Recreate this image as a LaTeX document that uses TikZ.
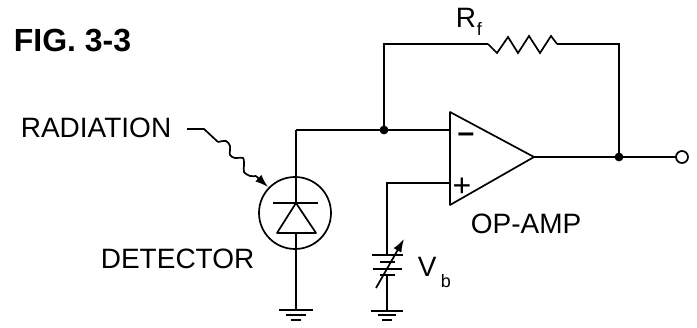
\documentclass[tikz,border=0pt]{standalone}
\usepackage{fontspec}
\setmainfont{Liberation Sans}
\usetikzlibrary{arrows.meta}
\begin{document}
\begin{tikzpicture}[
  x=1pt,
  y=-1pt,
  line width=1.7pt,
  mydot/.style={
    circle,
    fill=black,
    draw,
    outer sep=0pt,
    inner sep=0pt,
    minimum size=7pt
  },
  myport/.style={
    circle,
    fill=white,
    draw,
    outer sep=0pt,
    inner sep=0pt,
    minimum size=12pt
  },
  mylabel/.style={
    anchor=west,
    inner sep=0pt,
    font=\fontsize{28}{30}\selectfont
  },
  mysub/.style={
    anchor=west,
    inner sep=0pt,
    font=\fontsize{18}{20}\selectfont
  },
  mytip/.style={
    -{Latex[length=13pt,width=9pt]}
  }
]
\useasboundingbox (0,0) rectangle (697,328);
% labels
\node[mylabel,font=\fontsize{32}{34}\selectfont\bfseries] (fig) at (13,41) {FIG. 3-3};
\node[mylabel] (rad) at (20,128) {RADIATION};
\node[mylabel] (det) at (100,259) {DETECTOR};
\node[mylabel] (amp) at (470,224) {OP-AMP};
\node[mylabel] (rf) at (455,18) {R};
\node[mysub] (rfs) at (476,29) {f};
\node[mylabel] (vb) at (417,267) {V};
\node[mysub] (vbs) at (440,281) {b};
% op amp
\coordinate (ampa) at (450,112);
\coordinate (ampb) at (450,205);
\coordinate (ampc) at (534,157);
\coordinate (ampm) at (450,130);
\coordinate (ampp) at (450,183);
\draw[line join=round] (ampa) -- (ampc) -- (ampb) -- cycle;
\node[inner sep=0pt,font=\fontsize{30}{32}\selectfont\bfseries] (minus) at (466,138) {–};
\node[inner sep=0pt,font=\fontsize{32}{34}\selectfont] (plus) at (462,187) {+};
% detector
\node[circle,draw,minimum size=72pt,inner sep=0pt] (cell) at (295,213) {};
\coordinate (cellt) at (296,203);
\coordinate (cellb) at (296,233);
\draw (273,203) -- (318,203);
\draw[line join=round] (cellt) -- (277,233) -- (316,233) -- cycle;
\coordinate (wtop) at (296,130);
\coordinate (gnda) at (296,310);
\draw (wtop) -- (cellt);
\draw (cellb) -- (gnda);
\draw (279,310) -- (313,310);
\draw (286,315) -- (306,315);
\draw (291,320) -- (301,320);
% feedback
\node[mydot] (jin) at (384,130) {};
\node[mydot] (jout) at (619,157) {};
\node[myport] (out) at (682,157) {};
\coordinate (fba) at (384,44);
\coordinate (fbb) at (619,44);
\coordinate (resa) at (488,44);
\coordinate (resb) at (557,44);
\draw (wtop) -- (jin) -- (ampm);
\draw (jin) -- (fba) -- (resa);
\draw[line join=miter] (resa) -- (497,53) -- (508,37) -- (518,53) -- (529,36) -- (540,53) -- (551,36) -- (resb);
\draw (resb) -- (fbb) -- (jout);
\draw (ampc) -- (jout) -- (out);
% bias
\coordinate (batt) at (387,183);
\coordinate (batb) at (387,255);
\coordinate (batc) at (387,275);
\coordinate (gndb) at (387,311);
\draw (ampp) -- (batt) -- (batb);
\draw (batc) -- (gndb);
\draw (372,255) -- (403,255);
\draw (380,262) -- (395,262);
\draw (373,269) -- (402,269);
\draw (380,275) -- (395,275);
\draw (371,311) -- (403,311);
\draw (378,315) -- (396,315);
\draw (382,320) -- (392,320);
\draw[mytip] (376,288) -- (404,239);
% radiation
\coordinate (ray) at (187,129);
\draw (ray) -- (204,129) -- (218,142);
\draw[smooth] plot coordinates {(218,142) (226,141) (230,146) (230,155) (235,158) (243,158) (244,165) (244,172) (250,176) (256,176)};
\draw[mytip] (256,176) -- (268,187);
\end{tikzpicture}
\end{document}
